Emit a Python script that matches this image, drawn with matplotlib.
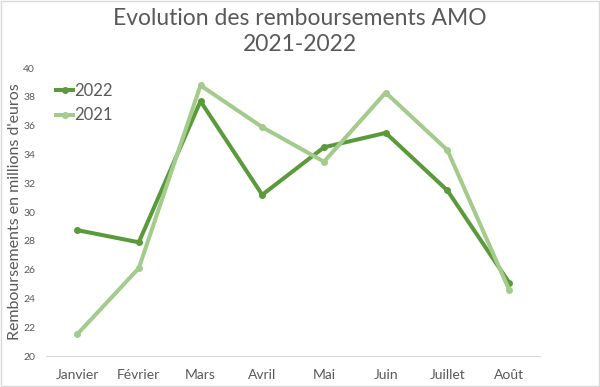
import matplotlib.pyplot as plt

mois = ["Janvier", "Février", "Mars", "Avril", "Mai", "Juin", "Juillet", "Août"]
rembours_2022 = [28.75, 27.9, 37.7, 31.2, 34.5, 35.5, 31.5, 25.1]
rembours_2021 = [21.5, 26.1, 38.8, 35.9, 33.5, 38.3, 34.3, 24.6]
yticks = [20, 22, 24, 26, 28, 30, 32, 34, 36, 38, 40]

plt.rcParams['font.family'] = ['Lato', 'DejaVu Sans']
gris = "#595959"

fig = plt.figure(figsize=(6, 3.87), dpi=100)
ax = fig.add_axes([0.077, 0.08, 0.823, 0.744])

x = range(len(mois))
ax.plot(x, rembours_2022, color="#5b9a3b", lw=2.9, marker="o", ms=4, label="2022")
ax.plot(x, rembours_2021, color="#a3cb8c", lw=2.9, marker="o", ms=4, label="2021")

ax.set_xlim(-0.5, len(mois) - 0.5)
ax.set_ylim(20, 40)
ax.set_yticks(yticks)
ax.set_xticks(list(x))
ax.set_xticklabels(mois, fontsize=10, color=gris)
ax.tick_params(axis="y", labelsize=7.5, labelcolor=gris, length=0, pad=8)
ax.tick_params(axis="x", length=0, pad=9)
for s in ["top", "right", "left"]:
    ax.spines[s].set_visible(False)
ax.spines["bottom"].set_color("#d9d9d9")
ax.set_ylabel("Remboursements en millions d'euros", fontsize=11.5, color=gris, labelpad=1)

fig.suptitle("Evolution des remboursements AMO\n2021-2022", fontsize=16.5, color=gris,
             y=0.98, linespacing=1.3)

leg = ax.legend(loc="upper left", bbox_to_anchor=(-0.01, 1.0), frameon=False,
                fontsize=12, handlelength=1.0, handletextpad=0.1, labelspacing=0.5)
for t in leg.get_texts():
    t.set_color(gris)

fig.patches.append(plt.Rectangle((0.002, 0.003), 0.996, 0.994, transform=fig.transFigure,
                                 fill=False, edgecolor="#d9d9d9", lw=1))

fig.savefig("out.png", dpi=100)
